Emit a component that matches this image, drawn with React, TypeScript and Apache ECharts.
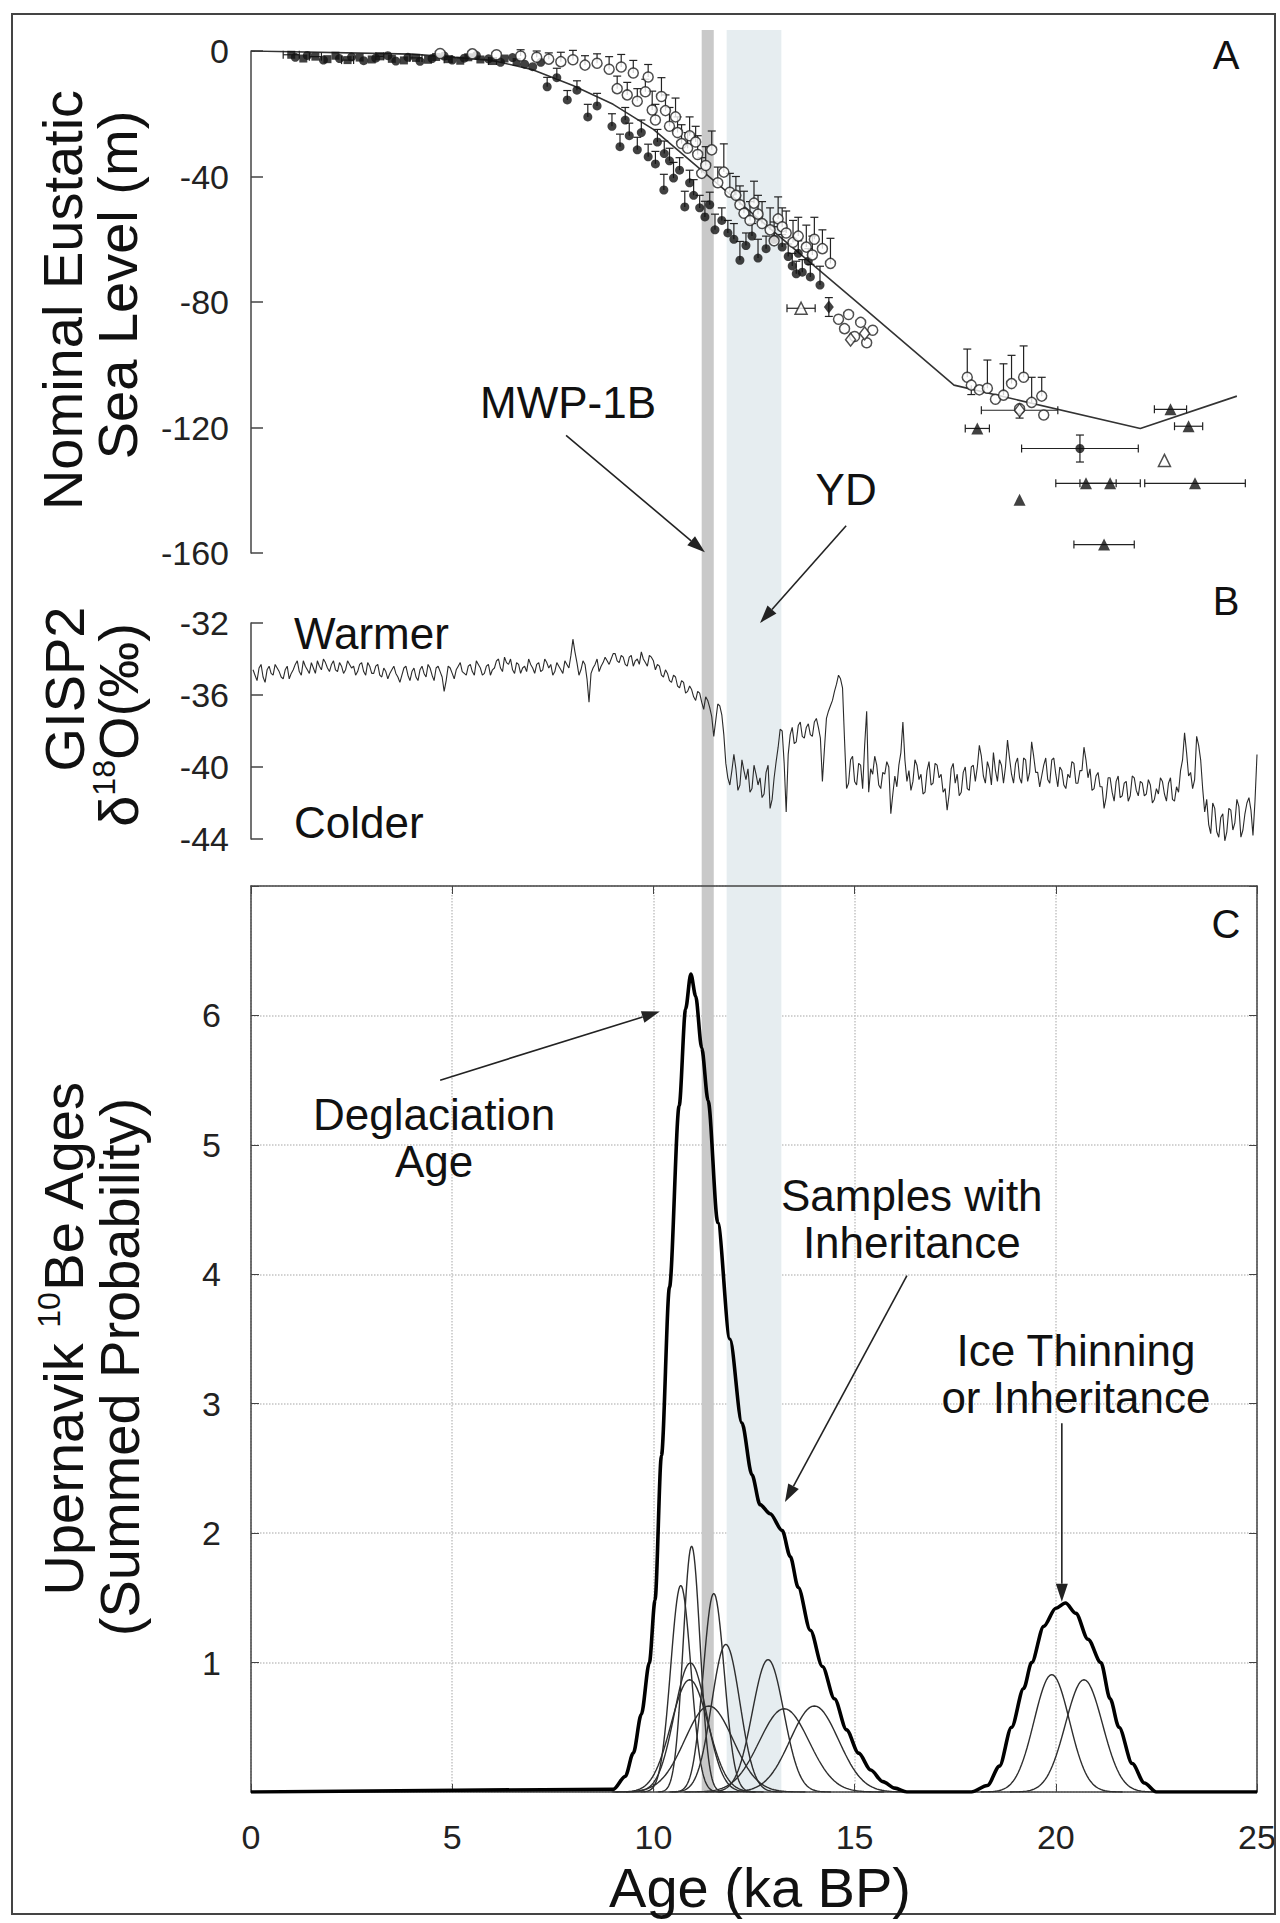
import { useEffect, useRef } from "react";
import * as echarts from "echarts";

// ======================= DATA =======================
const AGE_MIN = 0;
const AGE_MAX = 25;
const AGE_INTERVAL = 5;

// Shaded intervals (ka BP): MWP-1B (grey) and Younger Dryas (light blue)
const BAND_STARTS = [11.2, 11.82];
const BAND_ENDS = [11.5, 13.18];
const BAND_COLORS = ["#c9c9c9", "#e6edf0"];

// ---- Panel A: nominal eustatic sea level (m) ----
const SL_MIN = -160;
const SL_MAX = 0;
const SL_INTERVAL = 40;
const SL_MODEL_AGE = [0, 4, 6, 7, 8, 9, 10, 10.9, 15.0, 17.47, 22.1, 24.5];
const SL_MODEL_M = [0, -1, -3, -6, -11, -17, -25, -34.8, -79.4, -106.5, -120.3, -110];

// each point: [age ka, sea level m, x error, y error up, y error down]
const SL_FILLED_SQUARES = [
  [1.0, -1.2, 0.2, 0, 0], [1.3, -2.4, 0, 0, 0], [1.6, -1.8, 0.15, 0, 0], [1.9, -2.6, 0, 0, 0],
  [2.1, -1.5, 0, 0, 0], [2.4, -2.9, 0.15, 0, 0], [2.7, -2.1, 0, 0, 0], [3.0, -2.7, 0, 0, 0],
  [3.2, -1.7, 0.1, 0, 0], [3.5, -2.5, 0, 0, 0], [3.8, -3.0, 0, 0, 0], [4.1, -2.2, 0.15, 0, 0],
  [4.4, -2.8, 0, 0, 0], [4.6, -1.9, 0, 0, 0], [4.9, -2.6, 0.1, 0, 0], [5.2, -3.1, 0, 0, 0],
  [5.4, -2.0, 0, 0, 0], [5.7, -2.7, 0, 0, 0], [6.0, -3.2, 0.1, 0, 0], [6.3, -2.4, 0, 0, 0],
  [6.6, -3.5, 0, 0, 0],
];
const SL_FILLED_CIRCLES = [
  [1.1, -2.0, 0, 0, 0], [1.4, -1.4, 0, 0, 0], [1.8, -2.9, 0, 0, 0], [2.2, -2.4, 0, 0, 0],
  [2.5, -1.9, 0, 0, 0], [2.8, -3.1, 0, 0, 0], [3.1, -2.3, 0, 0, 0], [3.4, -1.5, 0, 0, 0],
  [3.6, -3.2, 0, 0, 0], [3.9, -2.0, 0, 0, 0], [4.2, -3.3, 0, 0, 0], [4.5, -2.4, 0, 0, 0],
  [4.8, -1.6, 0, 0, 0], [5.0, -2.9, 0, 0, 0], [5.3, -2.3, 0, 0, 0], [5.6, -1.4, 0, 0, 0],
  [5.9, -2.5, 0, 0, 0], [6.2, -3.6, 0, 0, 0], [6.5, -2.1, 0, 0, 0], [6.8, -4.2, 0, 0, 0],
  [7.0, -5.0, 0, 0, 0], [7.2, -3.6, 0, 0, 0],
  [7.36, -11.4, 0, 3, 0], [7.6, -8.5, 0, 3, 0], [7.86, -15.6, 0, 3, 0], [8.1, -12.5, 0, 3, 0],
  [8.37, -21.0, 0, 4, 0], [8.6, -17.5, 0, 4, 0], [8.97, -24.0, 0, 4, 0], [9.17, -30.5, 0, 4, 0],
  [9.3, -22.0, 0, 4, 0], [9.4, -27.0, 0, 4, 0], [9.6, -31.5, 0, 4, 0], [9.7, -26.0, 0, 4, 0],
  [9.87, -33.7, 0, 4, 0], [10.05, -36.0, 0, 4, 0], [10.1, -29.0, 0, 4, 0], [10.27, -32.7, 0, 4, 0],
  [10.26, -44.3, 0, 5, 0], [10.4, -35.0, 0, 4, 0], [10.5, -40.5, 0, 5, 0], [10.65, -38.0, 0, 4, 0],
  [10.78, -49.7, 0, 5, 0], [10.9, -42.0, 0, 4, 0], [11.0, -46.0, 0, 5, 0], [11.15, -50.0, 0, 4, 0],
  [11.28, -52.9, 0, 5, 0], [11.4, -49.0, 0, 4, 0], [11.53, -57.0, 0, 5, 0], [11.7, -54.0, 0, 4, 0],
  [11.85, -58.0, 0, 4, 0], [12.0, -60.0, 0, 5, 0], [12.15, -66.7, 0, 6, 0], [12.3, -62.0, 0, 4, 0],
  [12.45, -59.0, 0, 4, 0], [12.6, -66.0, 0, 6, 0], [12.8, -63.0, 0, 4, 0], [13.0, -60.0, 0, 4, 0],
  [13.2, -62.5, 0, 4, 0], [13.35, -65.5, 0, 4, 0], [13.45, -68.5, 0, 4, 0], [13.55, -71.0, 0, 4, 0],
  [13.6, -64.5, 0, 4, 0], [13.7, -70.5, 0, 4, 0], [13.85, -67.0, 0, 4, 0], [13.9, -72.0, 0, 4, 0],
  [14.14, -74.6, 0, 6, 0], [20.6, -126.7, 1.45, 4.3, 4.3],
];
const SL_OPEN_CIRCLES = [
  [4.7, -0.8, 0, 0, 0], [5.5, -0.9, 0, 0, 0], [6.1, -1.2, 0, 0, 0], [6.7, -1.6, 0, 2, 0],
  [7.1, -2.0, 0, 2, 0], [7.4, -2.6, 0, 2, 0], [7.7, -3.4, 0, 3, 0], [8.0, -2.8, 0, 3, 0],
  [8.3, -4.5, 0, 3, 0], [8.6, -3.9, 0, 3, 0], [8.9, -5.8, 0, 4, 0], [9.1, -12.0, 0, 4, 0],
  [9.2, -5.1, 0, 4, 0], [9.35, -14.0, 0, 4, 0], [9.5, -7.0, 0, 4, 0], [9.6, -16.0, 0, 4, 0],
  [9.8, -13.0, 0, 4, 0], [9.87, -8.3, 0, 4, 0],
  [9.97, -18.8, 0, 6, 0], [10.05, -22.0, 0, 5, 0], [10.2, -14.5, 0, 6, 0], [10.3, -19.0, 0, 5, 0],
  [10.4, -24.0, 0, 6, 0], [10.55, -21.0, 0, 6, 0], [10.6, -26.0, 0, 5, 0], [10.7, -29.5, 0, 6, 0],
  [10.85, -31.0, 0, 5, 0], [10.9, -27.0, 0, 6, 0], [11.05, -29.0, 0, 5, 0], [11.1, -33.0, 0, 6, 0],
  [11.2, -39.0, 0, 5, 0], [11.3, -36.5, 0, 6, 0], [11.45, -31.5, 0, 6, 0], [11.6, -42.0, 0, 5, 0],
  [11.75, -38.6, 0, 9, 0], [11.9, -45.0, 0, 6, 0], [12.05, -46.0, 0, 6, 0], [12.15, -49.0, 0, 6, 0],
  [12.25, -51.7, 0, 7, 0], [12.4, -54.0, 0, 6, 0], [12.5, -48.5, 0, 7, 0], [12.6, -52.0, 0, 6, 0],
  [12.7, -55.0, 0, 7, 0], [12.9, -57.0, 0, 7, 0], [13.0, -60.5, 0, 6, 0], [13.1, -53.5, 0, 7, 0],
  [13.2, -56.0, 0, 6, 0], [13.3, -58.0, 0, 7, 0], [13.47, -61.0, 0, 7, 0], [13.6, -59.0, 0, 6, 0],
  [13.8, -62.5, 0, 7, 0], [13.95, -65.0, 0, 6, 0], [14.0, -60.0, 0, 7, 0], [14.2, -63.0, 0, 6, 0],
  [14.4, -67.7, 0, 8, 0],
  [14.6, -85.5, 0, 0, 0], [14.75, -88.5, 0, 0, 0], [14.85, -84.0, 0, 0, 0], [15.0, -91.0, 0, 0, 0],
  [15.15, -86.5, 0, 0, 0], [15.3, -93.0, 0, 0, 0], [15.45, -89.0, 0, 0, 0],
  [17.8, -104, 0, 9, 0], [17.9, -106.5, 0, 0, 3], [18.1, -108, 0, 0, 0], [18.3, -107.5, 0, 9, 0],
  [18.5, -111, 0, 0, 0], [18.7, -109.7, 0, 10, 0], [18.9, -106, 0, 9, 0], [19.1, -114, 0, 0, 3],
  [19.2, -104, 0, 10, 0], [19.4, -112, 0, 8, 0], [19.65, -110, 0, 6, 0], [19.7, -116, 0, 0, 0],
];
const SL_OPEN_DIAMONDS = [[19.1, -114.5, 0.95, 0, 0], [14.9, -92.0, 0, 0, 0], [15.25, -90.0, 0, 0, 0]];
const SL_FILLED_DIAMONDS = [[14.36, -81.6, 0, 3, 3]];
const SL_FILLED_TRIANGLES = [
  [18.05, -120.3, 0.3, 0, 0], [20.75, -137.8, 0.75, 0, 0], [21.35, -137.8, 0.75, 0, 0],
  [23.46, -137.8, 1.25, 0, 0], [19.1, -143.0, 0, 0, 0], [21.2, -157.3, 0.75, 0, 0],
  [22.85, -114.2, 0.4, 0, 0], [23.3, -119.6, 0.35, 0, 0],
];
const SL_OPEN_TRIANGLES = [[13.67, -82.0, 0.35, 0, 0], [22.7, -130.5, 0, 0, 0]];

// ---- Panel B: GISP2 d18O (per mil) ----
const D18O_MIN = -44;
const D18O_MAX = -32;
const D18O_INTERVAL = 4;
// values at 0.1, 0.2, ... 25.0 ka
const GISP2_VALUES = [
  -34.9, -34.5, -35.0, -34.6, -34.8, -34.3, -34.7, -35.1, -34.4, -34.8,
  -34.3, -34.7, -34.1, -34.6, -34.2, -34.8, -34.4, -34.0, -34.5, -34.3,
  -34.6, -34.2, -34.8, -34.1, -34.5, -34.9, -34.3, -34.7, -34.2, -34.8,
  -34.4, -34.9, -34.5, -35.1, -34.6, -34.8, -35.3, -34.5, -34.9, -34.7,
  -35.0, -34.6, -34.8, -34.3, -34.9, -34.5, -34.7, -35.8, -34.4, -34.8,
  -34.6, -34.2, -34.8, -34.4, -34.7, -34.1, -34.5, -34.8, -34.3, -34.6,
  -34.1, -34.5, -33.9, -34.3, -34.6, -34.2, -34.8, -34.4, -34.0, -34.5,
  -34.3, -34.7, -34.0, -34.5, -34.9, -34.2, -34.6, -34.1, -34.5, -32.9,
  -34.2, -34.6, -34.3, -36.4, -34.5, -34.0, -34.4, -33.9, -34.3, -33.7,
  -34.1, -33.8, -34.3, -33.9, -34.4, -34.0, -33.6, -34.2, -33.8, -34.1,
  -34.3, -34.9, -34.6, -35.2, -34.9, -35.5, -35.2, -35.9, -35.5, -36.1,
  -35.8, -36.4, -36.1, -36.7, -38.3, -36.5, -37.1, -39.8, -41.0, -39.3,
  -41.3, -39.6, -40.7, -41.4, -39.9, -41.0, -41.7, -40.3, -42.3, -40.6,
  -38.9, -38.0, -42.5, -38.2, -38.7, -37.7, -38.3, -37.8, -38.2, -37.5,
  -37.8, -40.8, -37.3, -36.6, -35.8, -34.9, -35.6, -41.2, -39.6, -40.8,
  -39.8, -41.2, -36.9, -40.1, -39.4, -41.0, -40.3, -39.7, -42.6, -40.5,
  -39.9, -37.5, -40.8, -41.3, -39.6, -40.7, -41.5, -40.2, -41.0, -39.8,
  -40.6, -41.4, -42.4, -40.1, -40.9, -41.6, -40.3, -41.2, -40.0, -40.8,
  -38.8, -40.5, -39.7, -41.0, -40.2, -39.6, -40.9, -38.5, -40.4, -39.8,
  -40.6, -39.5, -40.8, -38.6, -40.3, -41.1, -39.9, -40.7, -39.6, -40.4,
  -40.0, -41.0, -40.4, -39.7, -40.9, -40.2, -38.9, -40.6, -41.3, -40.5,
  -41.1, -42.3, -40.6, -41.4, -40.8, -41.7, -40.9, -41.9, -40.5, -41.3,
  -40.8, -41.6, -40.7, -42.0, -41.2, -40.6, -41.5, -40.9, -41.8, -41.1,
  -40.2, -38.1, -40.5, -41.2, -38.3, -39.6, -42.5, -43.2, -42.0, -43.6,
  -42.8, -44.1, -42.3, -43.5, -41.8, -43.9, -42.6, -41.7, -43.8, -39.3,
];
// values at 0.05, 0.15, ... 24.95 ka
const GISP2_MID_VALUES = [
  -34.6, -35.2, -34.3, -35.3, -34.4, -34.9, -34.5, -35.0, -34.6, -35.1,
  -34.6, -34.1, -34.9, -34.4, -34.8, -34.5, -34.1, -34.6, -34.2, -34.7,
  -34.1, -34.7, -34.4, -34.6, -34.3, -34.4, -34.7, -34.2, -34.9, -34.4,
  -34.8, -34.3, -35.0, -34.7, -34.8, -34.4, -35.0, -34.9, -34.4, -35.2,
  -34.5, -35.2, -34.4, -35.0, -34.5, -35.2, -34.4, -35.0, -35.2, -34.5,
  -35.1, -34.4, -34.7, -34.9, -34.3, -34.9, -34.3, -34.9, -34.4, -34.9,
  -34.5, -34.0, -34.7, -34.2, -34.0, -34.8, -34.3, -34.5, -34.7, -34.3,
  -34.8, -34.2, -34.6, -34.2, -34.3, -34.7, -34.4, -34.8, -34.3, -33.8,
  -33.6, -34.9, -34.1, -35.1, -34.8, -34.3, -34.7, -34.2, -34.1, -34.0,
  -33.7, -34.2, -33.9, -34.4, -33.8, -34.1, -34.3, -34.0, -34.4, -33.9,
  -34.6, -34.4, -35.0, -34.8, -35.3, -35.0, -35.6, -35.3, -35.8, -35.7,
  -36.3, -35.9, -36.8, -36.3, -37.2, -37.4, -36.6, -38.2, -40.6, -40.2,
  -40.1, -41.0, -40.2, -40.1, -41.2, -40.4, -40.6, -41.5, -39.9, -41.8,
  -39.7, -37.9, -39.8, -39.3, -37.8, -38.6, -37.5, -38.4, -37.6, -38.3,
  -37.3, -38.4, -39.0, -36.9, -36.3, -35.4, -35.1, -38.5, -40.9, -39.4,
  -41.0, -39.9, -38.8, -41.4, -40.4, -39.9, -41.2, -40.4, -40.0, -41.5,
  -41.1, -39.2, -39.6, -40.2, -40.8, -39.9, -40.4, -41.4, -39.7, -40.9,
  -39.9, -40.4, -41.2, -41.5, -39.8, -40.4, -41.4, -40.0, -41.3, -39.9,
  -40.0, -39.4, -40.9, -40.1, -39.2, -40.8, -39.9, -40.0, -39.5, -40.9,
  -39.5, -40.9, -39.6, -40.3, -39.4, -40.3, -40.5, -39.5, -40.9, -39.5,
  -41.1, -40.2, -41.2, -40.6, -39.8, -40.9, -40.2, -39.6, -40.1, -41.2,
  -40.3, -41.1, -41.7, -40.6, -41.9, -40.5, -41.6, -40.8, -41.6, -40.6,
  -41.6, -40.9, -41.5, -41.0, -41.8, -41.5, -40.8, -41.9, -40.6, -41.9,
  -41.4, -39.6, -39.2, -40.3, -40.7, -38.8, -41.2, -41.8, -43.7, -42.3,
  -43.9, -42.6, -43.6, -42.4, -43.1, -42.2, -43.5, -42.0, -42.4, -41.9,
];

// ---- Panel C: Upernavik 10Be ages (summed probability) ----
const PROB_MIN = 0;
const PROB_MAX = 7;
const PROB_LABELS = ["", "1", "2", "3", "4", "5", "6", ""];
// individual sample ages (ka) and 1-sigma errors (ka)
const SAMPLE_AGES = [10.68, 10.95, 11.5, 11.8, 12.85, 10.92, 10.9, 11.38, 13.25, 14.0, 19.9, 20.7];
const SAMPLE_ERRORS = [0.25, 0.21, 0.26, 0.35, 0.39, 0.4, 0.46, 0.6, 0.62, 0.6, 0.44, 0.46];
// summed probability curve (thick)
const SUM_AGES = [0, 9.0, 9.3, 9.5, 9.7, 9.9, 10.04, 10.2, 10.4, 10.64, 10.8, 10.93, 11.05, 11.2, 11.36, 11.6,
  11.9, 12.2, 12.45, 12.65, 12.9, 13.2, 13.4, 13.6, 13.9, 14.2, 14.5, 14.8, 15.1, 15.4, 15.7, 16.0, 16.3,
  17.9, 18.3, 18.6, 18.9, 19.2, 19.4, 19.7, 20.0, 20.24, 20.5, 20.8, 21.12, 21.35, 21.57, 21.9, 22.2, 22.5, 25];
const SUM_VALUES = [0, 0.02, 0.12, 0.3, 0.6, 1.0, 1.48, 2.6, 3.9, 5.3, 6.05, 6.32, 6.15, 5.75, 5.34, 4.4,
  3.5, 2.85, 2.45, 2.22, 2.15, 2.02, 1.82, 1.58, 1.25, 0.97, 0.72, 0.48, 0.3, 0.17, 0.08, 0.03, 0,
  0, 0.05, 0.2, 0.5, 0.8, 1.0, 1.28, 1.42, 1.46, 1.38, 1.18, 1.0, 0.72, 0.5, 0.22, 0.07, 0, 0];

// ======================= STYLE / LAYOUT =======================
const FONT = "'Liberation Sans', Arial, Helvetica, sans-serif";
const AXIS_COLOR = "#444";
const TICK_FONT = 34;
const TITLE_FONT = 56;
const NOTE_FONT = 44;
const LETTER_FONT = 40;

const GRID_A = { left: 251, top: 51, width: 1006, height: 502 };
const GRID_B = { left: 251, top: 623, width: 1006, height: 216 };
const GRID_C = { left: 251, top: 886, width: 1006, height: 906 };
const GRID_BAND = { left: 251, top: 30, width: 1006, height: 1762 };

// annotation texts in data coordinates of the given grid
const NOTES = [
  { grid: 0, at: [24.23, -1.3], text: "A", size: LETTER_FONT, align: "center" },
  { grid: 0, at: [7.88, -112], text: "MWP-1B", size: NOTE_FONT, align: "center" },
  { grid: 1, at: [14.79, -24.6], text: "YD", size: NOTE_FONT, align: "center" },
  { grid: 1, at: [24.23, -30.8], text: "B", size: LETTER_FONT, align: "center" },
  { grid: 1, at: [1.07, -32.6], text: "Warmer", size: NOTE_FONT, align: "left" },
  { grid: 1, at: [1.07, -43.1], text: "Colder", size: NOTE_FONT, align: "left" },
  { grid: 2, at: [24.23, 6.71], text: "C", size: LETTER_FONT, align: "center" },
  { grid: 2, at: [4.55, 5.05], text: "Deglaciation\nAge", size: NOTE_FONT, align: "center" },
  { grid: 2, at: [16.42, 4.43], text: "Samples with\nInheritance", size: NOTE_FONT, align: "center" },
  { grid: 2, at: [20.5, 3.23], text: "Ice Thinning\nor Inheritance", size: NOTE_FONT, align: "center" },
];
const ARROWS = [
  { grid: 0, from: [7.83, -122.5], to: [11.28, -159.8] },
  { grid: 1, from: [14.79, -26.6], to: [12.65, -32.0] },
  { grid: 2, from: [4.7, 5.5], to: [10.16, 6.03] },
  { grid: 2, from: [16.3, 3.99], to: [13.27, 2.24] },
  { grid: 2, from: [20.15, 2.85], to: [20.15, 1.47] },
];

function gaussianCurve(age: number, sigma: number) {
  const pts: number[][] = [];
  for (let k = -40; k <= 40; k++) {
    const x = age + (k * sigma) / 10;
    pts.push([x, Math.exp((-0.5 * (x - age) * (x - age)) / (sigma * sigma)) / (sigma * Math.sqrt(2 * Math.PI))]);
  }
  return pts;
}

function leftAxis(gridIndex: number, min: number, max: number, interval: number, extra: any = {}) {
  return {
    gridIndex, type: "value", min, max, interval,
    axisLine: { show: true, onZero: false, lineStyle: { color: AXIS_COLOR, width: 1.5 } },
    axisTick: { show: true, inside: true, length: 12, lineStyle: { color: AXIS_COLOR, width: 1.5 } },
    axisLabel: { fontSize: TICK_FONT, fontFamily: FONT, color: "#222", margin: 22 },
    splitLine: { show: false },
    ...extra,
  };
}

export default function App() {
  const ref = useRef<HTMLDivElement>(null);
  useEffect(() => {
    document.body.style.margin = "0";
    const chart = echarts.init(ref.current!, null, { renderer: "svg" });

    const errorData = [
      ...SL_FILLED_SQUARES, ...SL_FILLED_CIRCLES, ...SL_OPEN_CIRCLES, ...SL_OPEN_DIAMONDS,
      ...SL_FILLED_DIAMONDS, ...SL_FILLED_TRIANGLES, ...SL_OPEN_TRIANGLES,
    ];
    const scatter = (data: number[][], symbol: string, size: any, filled: boolean) => ({
      type: "scatter", xAxisIndex: 0, yAxisIndex: 0, data, symbol, symbolSize: size,
      encode: { x: 0, y: 1 }, clip: false, z: 5, silent: true,
      itemStyle: filled ? { color: "#111" } : { color: "#fff", borderColor: "#222", borderWidth: 1.5 },
    });

    const gispData: number[][] = [];
    GISP2_VALUES.forEach((v, i) => {
      gispData.push([0.05 + i * 0.1, GISP2_MID_VALUES[i]]);
      gispData.push([0.1 + i * 0.1, v]);
    });

    const option: any = {
      animation: false,
      backgroundColor: "#fff",
      grid: [GRID_A, GRID_B, GRID_C, GRID_BAND].map((g) => ({ ...g, containLabel: false })),
      xAxis: [
        { gridIndex: 0, type: "value", min: AGE_MIN, max: AGE_MAX, show: false },
        { gridIndex: 1, type: "value", min: AGE_MIN, max: AGE_MAX, show: false },
        {
          gridIndex: 2, type: "value", min: AGE_MIN, max: AGE_MAX, interval: AGE_INTERVAL, position: "bottom",
          axisLine: { show: true, onZero: false, lineStyle: { color: AXIS_COLOR, width: 1.5 } },
          axisTick: { show: true, inside: true, length: 8, lineStyle: { color: AXIS_COLOR } },
          axisLabel: { fontSize: TICK_FONT, fontFamily: FONT, color: "#222", margin: 28 },
          splitLine: { show: true, lineStyle: { type: "dotted", color: "#c4c4c4", width: 1.5 } },
        },
        {
          gridIndex: 2, type: "value", min: AGE_MIN, max: AGE_MAX, interval: AGE_INTERVAL, position: "top",
          axisLine: { show: true, onZero: false, lineStyle: { color: AXIS_COLOR, width: 1.5 } },
          axisTick: { show: true, inside: true, length: 8, lineStyle: { color: AXIS_COLOR } },
          axisLabel: { show: false }, splitLine: { show: false },
        },
        { gridIndex: 3, type: "value", min: AGE_MIN, max: AGE_MAX, show: false },
      ],
      yAxis: [
        leftAxis(0, SL_MIN, SL_MAX, SL_INTERVAL),
        leftAxis(1, D18O_MIN, D18O_MAX, D18O_INTERVAL),
        leftAxis(2, PROB_MIN, PROB_MAX, 1, {
          axisLabel: { fontSize: TICK_FONT, fontFamily: FONT, color: "#222", margin: 30, formatter: (v: number) => PROB_LABELS[Math.round(v)] ?? "" },
          axisTick: { show: true, inside: true, length: 8, lineStyle: { color: AXIS_COLOR } },
          splitLine: { show: true, lineStyle: { type: "dotted", color: "#c4c4c4", width: 1.5 } },
        }),
        leftAxis(2, PROB_MIN, PROB_MAX, 1, {
          position: "right", axisLabel: { show: false },
          axisTick: { show: true, inside: true, length: 8, lineStyle: { color: AXIS_COLOR } },
        }),
        { gridIndex: 3, type: "value", min: 0, max: 1, show: false },
      ],
      series: [
        {
          type: "custom", xAxisIndex: 4, yAxisIndex: 4, z: 0, silent: true,
          data: BAND_STARTS.map((s, i) => [s, BAND_ENDS[i]]),
          renderItem: (params: any, api: any) => {
            const a = api.coord([api.value(0), 1]);
            const b = api.coord([api.value(1), 0]);
            return { type: "rect", shape: { x: a[0], y: a[1], width: b[0] - a[0], height: b[1] - a[1] }, style: { fill: BAND_COLORS[params.dataIndex] } };
          },
        },
        {
          type: "line", xAxisIndex: 0, yAxisIndex: 0, symbol: "none", z: 3, silent: true,
          data: SL_MODEL_AGE.map((a, i) => [a, SL_MODEL_M[i]]),
          lineStyle: { color: "#333", width: 1.6 },
        },
        {
          type: "custom", xAxisIndex: 0, yAxisIndex: 0, z: 4, silent: true, data: errorData,
          encode: { x: 0, y: 1 },
          renderItem: (_p: any, api: any) => {
            const x = api.value(0), y = api.value(1), xe = api.value(2), yu = api.value(3), yd = api.value(4);
            const st = { stroke: "#222", lineWidth: 1.2 };
            const ch: any[] = [];
            if (yu > 0 || yd > 0) {
              const t = api.coord([x, y + yu]);
              const b = api.coord([x, y - yd]);
              ch.push({ type: "line", shape: { x1: t[0], y1: t[1], x2: b[0], y2: b[1] }, style: st });
              if (yu > 0) ch.push({ type: "line", shape: { x1: t[0] - 4, y1: t[1], x2: t[0] + 4, y2: t[1] }, style: st });
              if (yd > 0) ch.push({ type: "line", shape: { x1: b[0] - 4, y1: b[1], x2: b[0] + 4, y2: b[1] }, style: st });
            }
            if (xe > 0) {
              const l = api.coord([x - xe, y]);
              const r = api.coord([x + xe, y]);
              ch.push({ type: "line", shape: { x1: l[0], y1: l[1], x2: r[0], y2: r[1] }, style: st });
              ch.push({ type: "line", shape: { x1: l[0], y1: l[1] - 4, x2: l[0], y2: l[1] + 4 }, style: st });
              ch.push({ type: "line", shape: { x1: r[0], y1: r[1] - 4, x2: r[0], y2: r[1] + 4 }, style: st });
            }
            return { type: "group", children: ch };
          },
        },
        scatter(SL_FILLED_SQUARES, "rect", 8, true),
        scatter(SL_FILLED_CIRCLES, "circle", 9, true),
        scatter(SL_OPEN_CIRCLES, "circle", 10, false),
        scatter(SL_OPEN_DIAMONDS, "diamond", [10, 13], false),
        scatter(SL_FILLED_DIAMONDS, "diamond", [10, 13], true),
        scatter(SL_FILLED_TRIANGLES, "triangle", 12, true),
        scatter(SL_OPEN_TRIANGLES, "triangle", 12, false),
        {
          type: "line", xAxisIndex: 1, yAxisIndex: 1, symbol: "none", clip: false, silent: true,
          data: gispData,
          lineStyle: { color: "#2a2a2a", width: 1.1 },
        },
        ...SAMPLE_AGES.map((age, i) => ({
          type: "line", xAxisIndex: 2, yAxisIndex: 2, symbol: "none", silent: true, z: 3,
          data: gaussianCurve(age, SAMPLE_ERRORS[i]),
          lineStyle: { color: "#2e2e2e", width: 1.4 },
        })),
        {
          type: "line", xAxisIndex: 2, yAxisIndex: 2, symbol: "none", silent: true, z: 4,
          smooth: 0.3, smoothMonotone: "x",
          data: SUM_AGES.map((a, i) => [a, SUM_VALUES[i]]),
          lineStyle: { color: "#000", width: 3.6 },
        },
      ],
    };
    chart.setOption(option);

    const toPx = (g: number, p: number[]) => chart.convertToPixel({ gridIndex: g } as any, p) as number[];
    const graphics: any[] = [];
    graphics.push({
      type: "rect", shape: { x: 12, y: 14, width: 1263, height: 1900 },
      style: { fill: "none", stroke: "#444", lineWidth: 2 }, silent: true, z: 50,
    });
    NOTES.forEach((n) => {
      const p = toPx(n.grid, n.at);
      graphics.push({
        type: "text", x: p[0], y: p[1], z: 60, silent: true,
        style: {
          text: n.text, fill: "#111", fontSize: n.size, fontFamily: FONT, lineHeight: 47,
          align: n.align, verticalAlign: "middle", textAlign: n.align, textVerticalAlign: "middle",
        },
      });
    });
    ARROWS.forEach((a) => {
      const s = toPx(a.grid, a.from);
      const e = toPx(a.grid, a.to);
      const dx = e[0] - s[0], dy = e[1] - s[1];
      const len = Math.hypot(dx, dy);
      const ux = dx / len, uy = dy / len;
      const hl = 18, hw = 6;
      const bx = e[0] - ux * hl, by = e[1] - uy * hl;
      graphics.push({ type: "line", z: 60, silent: true, shape: { x1: s[0], y1: s[1], x2: bx, y2: by }, style: { stroke: "#222", lineWidth: 1.6 } });
      graphics.push({
        type: "polygon", z: 60, silent: true,
        shape: { points: [[e[0], e[1]], [bx - uy * hw, by + ux * hw], [bx + uy * hw, by - ux * hw]] },
        style: { fill: "#222" },
      });
    });
    const rot = (x: number, y: number, text: string, rich?: any) => ({
      type: "text", x, y, rotation: Math.PI / 2, z: 60, silent: true,
      style: {
        text, rich, fill: "#111", fontSize: TITLE_FONT, fontFamily: FONT,
        align: "center", verticalAlign: "middle", textAlign: "center", textVerticalAlign: "middle",
      },
    });
    const richTitle = {
      n: { fontSize: TITLE_FONT, fontFamily: FONT, fill: "#111", lineHeight: 60 },
      s: { fontSize: 32, fontFamily: FONT, fill: "#111", verticalAlign: "top", lineHeight: 60 },
    };
    graphics.push(rot(62, 300, "Nominal Eustatic"));
    graphics.push(rot(117, 285, "Sea Level (m)"));
    graphics.push(rot(64, 689, "GISP2"));
    graphics.push(rot(118, 725, "{n|δ}{s|18}{n|O(‰)}", richTitle));
    graphics.push(rot(63, 1338, "{n|Upernavik }{s|10}{n|Be Ages}", richTitle));
    graphics.push(rot(119, 1367, "(Summed Probability)"));
    graphics.push({
      type: "text", x: 760, y: 1887, z: 60, silent: true,
      style: { text: "Age (ka BP)", fill: "#111", fontSize: TITLE_FONT, lineHeight: 56, fontFamily: FONT, align: "center", verticalAlign: "middle", textAlign: "center", textVerticalAlign: "middle" },
    });
    chart.setOption({ graphic: graphics });

    return () => chart.dispose();
  }, []);
  return <div ref={ref} style={{ width: 1280, height: 1923 }} />;
}
